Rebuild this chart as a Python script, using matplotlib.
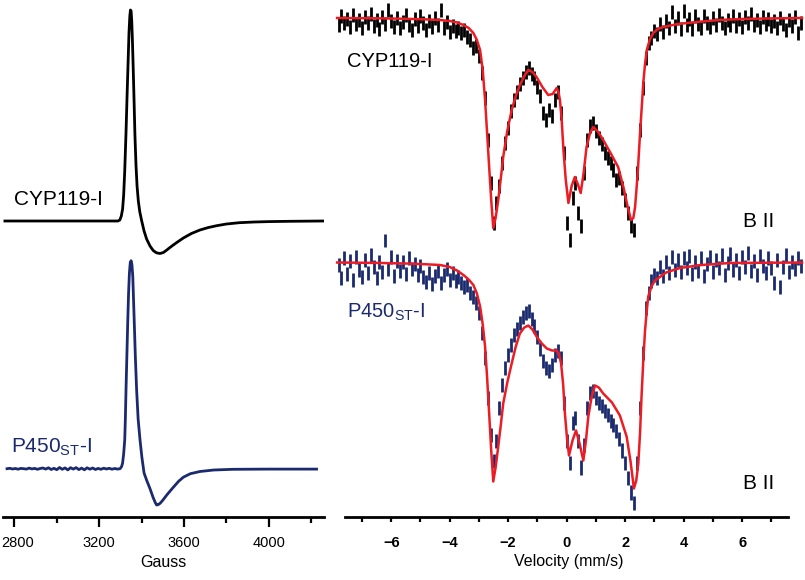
import matplotlib
matplotlib.use('Agg')
import matplotlib.pyplot as plt
import numpy as np

plt.rcParams['font.family'] = ['Liberation Sans', 'DejaVu Sans']
plt.rcParams['mathtext.fontset'] = 'custom'
plt.rcParams['mathtext.rm'] = 'Liberation Sans'
plt.rcParams['mathtext.it'] = 'Liberation Sans:italic'
plt.rcParams['mathtext.bf'] = 'Liberation Sans:bold'

NAVY = '#1b2a6e'
RED = '#ec1c24'

# ---- EPR (left panel), signal in arbitrary units ----
epr_cyp_gauss = [2757, 3000, 3289, 3298, 3305, 3311, 3316, 3321, 3327, 3332,
                 3337, 3341, 3345, 3348, 3351, 3354, 3357, 3361, 3365, 3369,
                 3374, 3379, 3385, 3392, 3401, 3412, 3424, 3440, 3455, 3470,
                 3487, 3503, 3519, 3540, 3566, 3597, 3635, 3675, 3715, 3754,
                 3800, 3860, 3930, 4000, 4100, 4254]
epr_cyp_signal = [0.0, 0.0, 0.0, 0.01, 0.05, 0.12, 0.26, 0.50, 0.88, 1.25,
                  1.60, 1.88, 2.05, 2.11, 2.10, 2.00, 1.82, 1.52, 1.20, 0.86,
                  0.56, 0.35, 0.20, 0.09, 0.0, -0.10, -0.18, -0.25, -0.295, -0.318,
                  -0.325, -0.315, -0.29, -0.255, -0.215, -0.17, -0.125, -0.09, -0.065, -0.047,
                  -0.03, -0.017, -0.01, -0.006, -0.003, 0.0]

epr_p450_gauss = [2767, 2780, 2793, 2806, 2819, 2832, 2845, 2858, 2871, 2884,
                  2897, 2910, 2923, 2936, 2949, 2962, 2975, 2988, 3001, 3014,
                  3027, 3040, 3053, 3066, 3079, 3092, 3105, 3118, 3131, 3144,
                  3157, 3170, 3183, 3196, 3209, 3222, 3235, 3248, 3261, 3274,
                  3287, 3299, 3306, 3311, 3316, 3321, 3324, 3327, 3331, 3335,
                  3339, 3343, 3347, 3351, 3355, 3359, 3362, 3366, 3371, 3377,
                  3384, 3393, 3402, 3412, 3425, 3440, 3455, 3465, 3471, 3478,
                  3488, 3501, 3520, 3548, 3575, 3597, 3630, 3675, 3740, 3831,
                  4000, 4224]
epr_p450_signal = [0.0, 0.004, -0.003, 0.002, -0.005, 0.003, 0.0, -0.004, 0.006, -0.002,
                   0.003, -0.006, 0.002, 0.007, -0.004, 0.009, -0.008, 0.004, -0.01, 0.012,
                   -0.006, 0.008, -0.012, 0.01, -0.004, 0.011, -0.009, 0.006, -0.011, 0.009,
                   -0.005, 0.007, -0.008, 0.003, -0.006, 0.005, -0.003, 0.004, -0.005, 0.002,
                   -0.004, 0.0, 0.02, 0.057, 0.15, 0.287, 0.50, 0.787, 1.12, 1.457,
                   1.75, 1.957, 2.06, 2.08, 2.04, 1.92, 1.72, 1.457, 1.12, 0.787,
                   0.50, 0.287, 0.11, -0.043, -0.12, -0.20, -0.29, -0.34, -0.363, -0.36,
                   -0.345, -0.313, -0.26, -0.19, -0.125, -0.085, -0.05, -0.028, -0.013, -0.006,
                   -0.004, -0.004]
epr_p450_offset = -2.477

gauss_ticks = [2800, 3200, 3600, 4000]
gauss_minor = [3000, 3400, 3800, 4200]

# ---- Moessbauer (right panel), absorption in arbitrary units ----
velocity = np.linspace(-7.8, 8.0, 159)

moss_cyp_abs = [
    -0.07, 0.02, -0.05, -0.01, -0.09, 0.03, -0.06, -0.02, -0.10, 0.01,
    -0.05, 0.04, -0.08, -0.02, -0.11, 0.01, -0.06, 0.08, -0.03, -0.09,
    0.00, -0.10, -0.04, 0.03, -0.07, -0.12, -0.01, -0.08, 0.02, -0.05,
    -0.12, -0.03, -0.09, 0.00, -0.07, 0.08, -0.10, -0.04, -0.14, -0.08,
    -0.13, -0.10, -0.15, -0.12, -0.19, -0.22, -0.30, -0.28, -0.38, -0.55,
    -0.80, -1.22, -1.65, -2.05, -1.85, -1.68, -1.45, -1.25, -1.10, -0.93,
    -0.82, -0.74, -0.66, -0.60, -0.54, -0.50, -0.56, -0.60, -0.69, -0.78,
    -0.95, -1.02, -0.92, -0.98, -0.82, -0.74, -0.95, -1.35, -2.05, -2.22,
    -1.80, -1.65, -1.95, -2.08, -1.55, -1.22, -1.08, -1.05, -1.13, -1.20,
    -1.26, -1.35, -1.40, -1.45, -1.52, -1.62, -1.60, -1.70, -1.82, -1.95,
    -2.08, -2.12, -1.55, -1.12, -0.70, -0.40, -0.25, -0.20, -0.13, -0.16,
    -0.06, -0.14, -0.03, -0.10, 0.06, -0.08, 0.00, -0.11, 0.07, -0.07,
    -0.01, -0.11, 0.02, -0.06, -0.10, 0.02, -0.05, -0.09, 0.00, -0.07,
    0.03, -0.05, -0.10, -0.02, -0.07, 0.02, -0.08, -0.01, -0.09, 0.01,
    -0.05, 0.04, -0.07, -0.02, -0.09, 0.01, -0.06, -0.01, -0.08, -0.03,
    -0.10, 0.00, -0.06, -0.12, -0.02, -0.08, 0.01, -0.15, -0.05]

moss_p450_abs = [
    -0.02, -0.15, 0.05, -0.11, 0.02, -0.17, 0.06, -0.07, -0.14, 0.03,
    -0.10, 0.08, -0.04, -0.15, 0.01, -0.09, 0.22, -0.06, 0.06, -0.13,
    0.02, -0.08, 0.01, -0.11, 0.05, -0.06, -0.01, -0.12, -0.03, -0.14,
    -0.19, -0.10, -0.21, -0.13, -0.08, -0.20, -0.12, -0.06, -0.17, -0.10,
    -0.18, -0.14, -0.20, -0.24, -0.22, -0.30, -0.34, -0.40, -0.50, -0.70,
    -0.95, -1.35, -1.72, -1.98, -1.78, -1.45, -1.22, -1.05, -0.92, -0.82,
    -0.72, -0.66, -0.60, -0.54, -0.50, -0.48, -0.56, -0.63, -0.74, -0.86,
    -0.98, -1.05, -1.08, -1.02, -0.92, -0.88, -0.95, -1.40, -1.78, -2.00,
    -1.60, -1.55, -1.78, -2.05, -1.82, -1.45, -1.30, -1.28, -1.35, -1.40,
    -1.43, -1.48, -1.52, -1.58, -1.62, -1.68, -1.76, -1.88, -2.00, -2.15,
    -2.30, -2.40, -2.00, -1.45, -0.90, -0.45, -0.30, -0.18, -0.12, -0.15,
    -0.04, -0.13, 0.01, -0.10, 0.06, -0.07, 0.03, -0.09, 0.05, -0.05,
    0.07, -0.11, 0.01, -0.08, 0.05, -0.13, -0.01, 0.06, -0.09, 0.03,
    -0.05, 0.08, -0.12, 0.00, 0.09, -0.07, 0.03, -0.10, 0.06, -0.04,
    0.10, -0.08, 0.02, -0.12, 0.07, -0.03, -0.10, 0.05, -0.05, -0.20,
    0.03, -0.24, -0.04, 0.08, -0.09, 0.01, -0.06, 0.05, -0.03]
moss_p450_offset = -2.445

fit_cyp_v = [-7.85, -6.5, -5.5, -4.8, -4.33, -4.0, -3.75, -3.53, -3.35, -3.19,
             -3.07, -2.96, -2.87, -2.79, -2.72, -2.65, -2.58, -2.51, -2.43, -2.34,
             -2.25, -2.17, -2.03, -1.88, -1.74, -1.60, -1.45, -1.31, -1.17, -1.03,
             -0.83, -0.63, -0.48, -0.34, -0.28, -0.23, -0.17, -0.11, -0.03, 0.06,
             0.17, 0.28, 0.38, 0.48, 0.58, 0.68, 0.80, 0.91, 1.08, 1.25,
             1.50, 1.76, 1.94, 2.08, 2.20, 2.28, 2.34, 2.43, 2.51, 2.57,
             2.62, 2.68, 2.74, 2.85, 2.96, 3.12, 3.30, 3.80, 4.44, 5.20,
             6.00, 7.00, 8.05]
fit_cyp_abs = [0.0, -0.003, -0.008, -0.014, -0.02, -0.03, -0.045, -0.07, -0.10, -0.15,
               -0.22, -0.32, -0.52, -0.82, -1.15, -1.49, -1.82, -2.10, -2.00, -1.82,
               -1.60, -1.39, -1.13, -0.92, -0.78, -0.67, -0.58, -0.52, -0.54, -0.59,
               -0.69, -0.77, -0.76, -0.70, -0.74, -0.82, -1.02, -1.32, -1.62, -1.85,
               -1.68, -1.59, -1.66, -1.75, -1.55, -1.29, -1.15, -1.09, -1.14, -1.22,
               -1.35, -1.49, -1.69, -1.88, -2.02, -2.00, -1.89, -1.55, -1.15, -0.88,
               -0.65, -0.46, -0.32, -0.21, -0.15, -0.11, -0.09, -0.06, -0.04, -0.02,
               -0.01, -0.004, 0.0]

fit_p450_v = [-7.85, -6.5, -5.5, -4.8, -4.33, -4.0, -3.75, -3.53, -3.35, -3.19,
              -3.07, -2.96, -2.87, -2.79, -2.72, -2.65, -2.58, -2.51, -2.43, -2.34,
              -2.25, -2.17, -2.03, -1.88, -1.74, -1.60, -1.45, -1.31, -1.17, -1.03,
              -0.85, -0.68, -0.50, -0.34, -0.26, -0.19, -0.12, -0.06, 0.01, 0.08,
              0.20, 0.32, 0.45, 0.57, 0.66, 0.74, 0.85, 0.97, 1.10, 1.25,
              1.55, 1.82, 2.05, 2.18, 2.30, 2.38, 2.45, 2.51, 2.56, 2.62,
              2.68, 2.74, 2.79, 2.90, 3.02, 3.40, 3.87, 4.60, 5.58, 8.05]
fit_p450_abs = [0.0, -0.004, -0.01, -0.018, -0.025, -0.045, -0.08, -0.125, -0.17, -0.225,
                -0.31, -0.44, -0.62, -0.84, -1.15, -1.51, -1.88, -2.19, -2.05, -1.84,
                -1.62, -1.41, -1.20, -1.01, -0.84, -0.71, -0.65, -0.63, -0.67, -0.74,
                -0.81, -0.86, -0.88, -0.88, -0.92, -1.01, -1.22, -1.51, -1.75, -1.93,
                -1.78, -1.68, -1.82, -1.98, -1.78, -1.54, -1.35, -1.23, -1.25, -1.31,
                -1.40, -1.53, -1.74, -1.98, -2.26, -2.18, -2.01, -1.70, -1.34, -0.98,
                -0.68, -0.48, -0.34, -0.24, -0.18, -0.10, -0.055, -0.025, -0.005, 0.0]


def style_axis(ax):
    for side in ['top', 'left', 'right']:
        ax.spines[side].set_visible(False)
    ax.spines['bottom'].set_linewidth(2.0)
    ax.set_yticks([])
    ax.patch.set_visible(False)


fig = plt.figure(figsize=(8.05, 5.80), dpi=100)
W, H = 805.0, 580.0

# left: EPR
ax1 = fig.add_axes([3 / W, 63 / H, 321 / W, 517 / H])
style_axis(ax1)
ax1.plot(epr_cyp_gauss, epr_cyp_signal, color='black', lw=2.0)
ax1.plot(epr_p450_gauss, np.array(epr_p450_signal) + epr_p450_offset, color=NAVY, lw=2.0)
ax1.set_xlim(2748, 4259)
ax1.set_ylim(-2.96, 2.21)
ax1.set_xticks(gauss_ticks)
ax1.set_xticks(gauss_minor, minor=True)
# first label sits right at the figure edge, so it is drawn left-aligned below
ax1.set_xticklabels([''] + [str(t) for t in gauss_ticks[1:]])
ax1.tick_params(which='major', direction='out', length=7, width=1.6, labelsize=10.5, pad=7)
ax1.tick_params(which='minor', direction='out', length=4, width=1.6)
ax1.annotate(str(gauss_ticks[0]), xy=(gauss_ticks[0], 0), xycoords=('data', 'axes fraction'),
             xytext=(-9.5, -14), textcoords='offset points', ha='left', va='top',
             fontsize=10.5, annotation_clip=False)
ax1.set_xlabel('Gauss', fontsize=11.5, labelpad=3)
ax1.text(2800, 0.16, 'CYP119-I', fontsize=15, ha='left', va='baseline')
ax1.text(2786, -2.313, r'P450$_{\mathrm{ST}}$-I', fontsize=15, ha='left', va='baseline', color=NAVY)

# right: Moessbauer
ax2 = fig.add_axes([333 / W, 63 / H, 472 / W, 517 / H])
style_axis(ax2)
ax2.errorbar(velocity, moss_cyp_abs, yerr=0.07, fmt='none', ecolor='black', elinewidth=2.0, capsize=0)
ax2.errorbar(velocity, np.array(moss_p450_abs) + moss_p450_offset, yerr=0.07, fmt='none',
             ecolor=NAVY, elinewidth=2.0, capsize=0)
ax2.plot(fit_cyp_v, fit_cyp_abs, color=RED, lw=1.8, zorder=5)
ax2.plot(fit_p450_v, np.array(fit_p450_abs) + moss_p450_offset, color=RED, lw=1.8, zorder=5)
ax2.set_xlim(-7.99, 8.15)
ax2.set_ylim(-4.99, 0.18)
ax2.spines['bottom'].set_bounds(-7.58, 7.58)
ax2.set_xticks([-6, -4, -2, 0, 2, 4, 6])
ax2.set_xticks([-7, -5, -3, -1, 1, 3, 5, 7], minor=True)
ax2.tick_params(which='both', direction='out', length=3.8, width=1.6)
ax2.tick_params(which='major', labelsize=10.5, pad=10)
for lbl in ax2.get_xticklabels():
    lbl.set_fontweight('bold')
ax2.set_xlabel('Velocity (mm/s)', fontsize=11.5, labelpad=3)
ax2.text(-7.52, -0.487, 'CYP119-I', fontsize=14.5, ha='left', va='baseline')
ax2.text(-7.52, -3.0, r'P450$_{\mathrm{ST}}$-I', fontsize=14.5, ha='left', va='baseline', color=NAVY)
ax2.text(6.03, -2.087, 'B II', fontsize=15, ha='left', va='baseline')
ax2.text(6.03, -4.713, 'B II', fontsize=15, ha='left', va='baseline')

fig.savefig('out.png', dpi=100)
